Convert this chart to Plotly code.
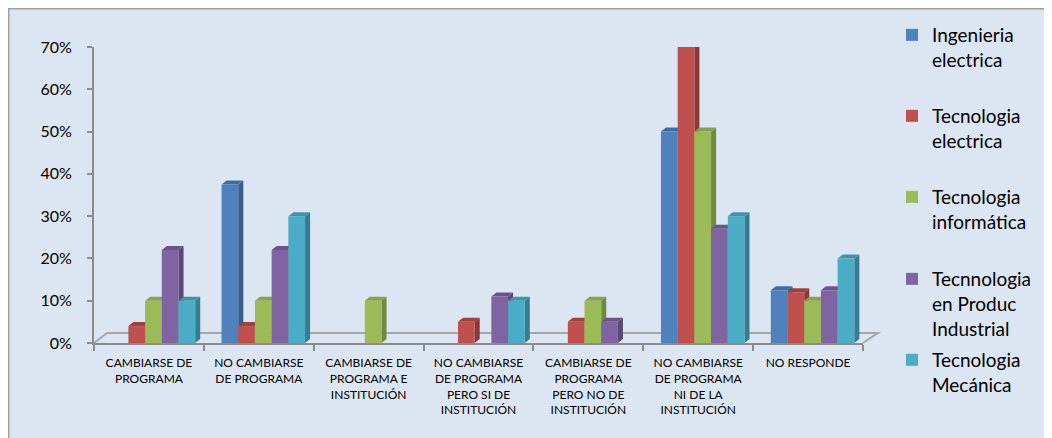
import plotly.graph_objects as go

# ---------------- data ----------------
categories = [
    "CAMBIARSE DE<br>PROGRAMA",
    "NO CAMBIARSE<br>DE PROGRAMA",
    "CAMBIARSE DE<br>PROGRAMA E<br>INSTITUCIÓN",
    "NO CAMBIARSE<br>DE PROGRAMA<br>PERO SI DE<br>INSTITUCIÓN",
    "CAMBIARSE DE<br>PROGRAMA<br>PERO NO DE<br>INSTITUCIÓN",
    "NO CAMBIARSE<br>DE PROGRAMA<br>NI DE LA<br>INSTITUCIÓN",
    "NO RESPONDE",
]
series_names = [
    "Ingenieria<br>electrica",
    "Tecnologia<br>electrica",
    "Tecnologia<br>informática",
    "Tecnnologia<br>en Produc<br>Industrial",
    "Tecnologia<br>Mecánica",
]
ing_electrica   = [0.00, 0.375, 0.00, 0.00, 0.00, 0.50, 0.125]
tec_electrica   = [0.04, 0.04, 0.00, 0.05, 0.05, 0.70, 0.12]
tec_informatica = [0.10, 0.10, 0.10, 0.00, 0.10, 0.50, 0.10]
tec_produc      = [0.22, 0.22, 0.00, 0.11, 0.05, 0.27, 0.125]
tec_mecanica    = [0.10, 0.30, 0.00, 0.10, 0.00, 0.30, 0.20]
series_values = [ing_electrica, tec_electrica, tec_informatica, tec_produc, tec_mecanica]
y_ticks = [0, 0.1, 0.2, 0.3, 0.4, 0.5, 0.6, 0.7]

# ---------------- style ----------------
front_colors = ["#4f81bd", "#c0504d", "#9bbb59", "#8064a2", "#4bacc6"]
side_colors  = ["#385d8a", "#8c3836", "#71893f", "#5c4776", "#357d91"]
top_colors   = ["#3f6ca3", "#a2403d", "#86a24a", "#6c5489", "#3e94ab"]
FONT = "Lato"
BARGAP = 0.24
NS = len(series_values)
W = (1 - BARGAP) / NS      # bar width in category units
SHIFT = 0.041              # perspective shift of the bar block
DX = 0.046                 # depth offset (category units)
DY = 0.0095                # depth offset (value units)

fig = go.Figure()

def bar_offset(j):
    return (j - NS / 2) * W + SHIFT

# 3D side and top faces (base axes, drawn below bars)
for kind in ("side", "top"):
    for j, vals in enumerate(series_values):
        xs, ys = [], []
        for i, v in enumerate(vals):
            if v <= 0:
                continue
            xl = i + bar_offset(j)
            xr = xl + W
            if kind == "side":
                xs += [xr, xr + DX, xr + DX, xr, xr, None]
                ys += [0, DY, v + DY, v, 0, None]
            else:
                xs += [xl, xr, xr + DX, xl + DX, xl, None]
                ys += [v, v, v + DY, v + DY, v, None]
        fig.add_trace(go.Scatter(
            x=xs, y=ys, mode="lines", fill="toself",
            fillcolor=(side_colors if kind == "side" else top_colors)[j],
            line=dict(width=0), hoverinfo="skip", showlegend=False,
            xaxis="x", yaxis="y",
        ))

# front faces as real bars (overlay axes)
legend_tops = [1.1047, 0.8311, 0.5574, 0.2804, 0.0068]
for j, (name, vals) in enumerate(zip(series_names, series_values)):
    lg = "legend" if j == 0 else f"legend{j+1}"
    fig.add_trace(go.Bar(
        x=categories, y=vals, name=name,
        width=W, offset=bar_offset(j),
        marker=dict(color=front_colors[j], line=dict(width=0)),
        xaxis="x2", yaxis="y2", legend=lg,
    ))

axis_gray = "#8c8c8c"
layout = dict(
    width=1044, height=430,
    margin=dict(l=86, r=189, t=39, b=95, autoexpand=False),
    paper_bgcolor="white",
    plot_bgcolor="rgba(0,0,0,0)",
    barmode="overlay",
    font=dict(family=FONT, color="#000000"),
    xaxis=dict(type="linear", range=[-0.5, len(categories) - 0.5], visible=False, fixedrange=True),
    yaxis=dict(range=[0, 0.7], tickvals=y_ticks, tickformat=".0%",
               ticks="outside", ticklen=5, tickwidth=1.5, tickcolor=axis_gray,
               showline=True, linecolor=axis_gray, linewidth=2,
               showgrid=False, zeroline=False, ticklabelstandoff=12,
               tickfont=dict(family=FONT, size=16, color="#000")),
    xaxis2=dict(type="category", overlaying="x", anchor="y2", side="bottom",
                range=[-0.5, len(categories) - 0.5],
                tickson="boundaries", ticks="outside", ticklen=6, tickwidth=1.5,
                tickcolor=axis_gray, showline=True, linecolor=axis_gray, linewidth=2,
                showgrid=False, ticklabelstandoff=8,
                tickfont=dict(family=FONT, size=12, color="#000")),
    yaxis2=dict(overlaying="y", anchor="x2", range=[0, 0.7], visible=False),
    shapes=[
        dict(type="rect", xref="paper", yref="paper", x0=-0.1109, x1=1.26, y0=-0.36, y1=1.1292,
             fillcolor="#dce6f2", line=dict(color="#a0a0a0", width=1.5), layer="below"),
        dict(type="path", xref="paper", yref="paper",
             path="M 0,0 L 0.017,0.034 L 1.0195,0.034 L 1,0",
             line=dict(color="#a6a6a6", width=2), layer="below"),
    ],
)
for j in range(NS):
    key = "legend" if j == 0 else f"legend{j+1}"
    layout[key] = dict(x=1.0377, xanchor="left", y=legend_tops[j], yanchor="top",
                       bgcolor="rgba(0,0,0,0)", valign="top",
                       font=dict(family=FONT, size=19, color="#000"))
fig.update_layout(**layout)

fig.write_html("out.html")
